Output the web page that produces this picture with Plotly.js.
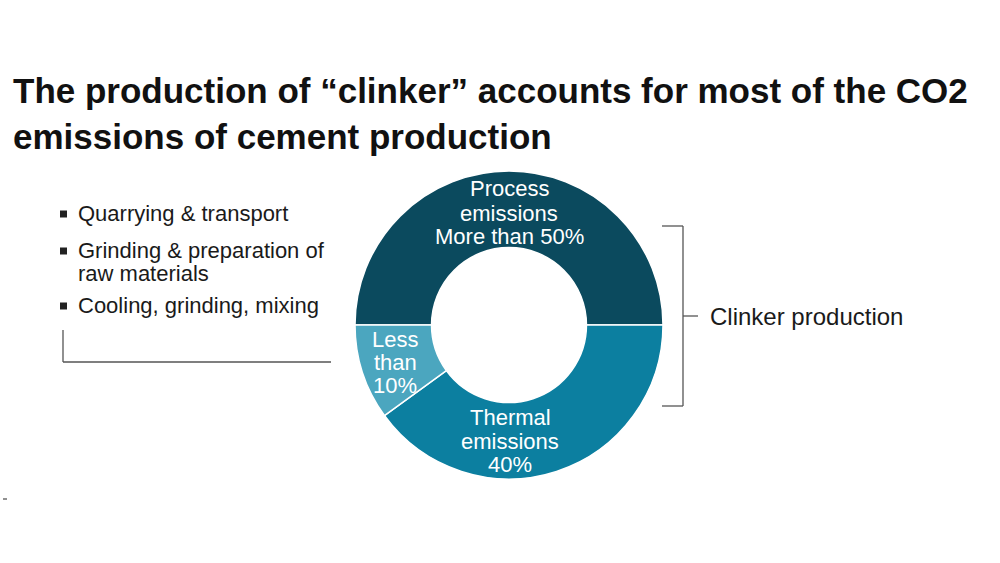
<!DOCTYPE html>
<html>
<head>
<meta charset="utf-8">
<script src="https://cdn.plot.ly/plotly-3.0.1.min.js"></script>
<style>
  html, body { margin: 0; padding: 0; background: #ffffff; }
  #chart { width: 1000px; height: 563px; }
</style>
</head>
<body>
<div id="chart"></div>
<script>
// ---- data ----
const categories = ['Process emissions', 'Thermal emissions', 'Other steps'];
const shares = [50, 40, 10];
const sliceColors = ['#0b4a5e', '#0c7fa0', '#4ba6bf'];
const processLabel = ['Process', 'emissions', 'More than 50%'];
const thermalLabel = ['Thermal', 'emissions', '40%'];
const otherLabel = ['Less', 'than', '10%'];
const stepItems = [['Quarrying & transport'], ['Grinding & preparation of', 'raw materials'], ['Cooling, grinding, mixing']];
const bracketLabel = 'Clinker production';
const titleText = 'The production of \u201cclinker\u201d accounts for most of the CO2<br>emissions of cement production';

// ---- helpers (pixel -> paper) ----
const W = 1000, H = 563;
const px = x => x / W;
const py = y => 1 - y / H;
const FONT = 'Liberation Sans, Arial, Helvetica, sans-serif';

const annotations = [];
function addLines(lines, cx, ys, opts) {
  lines.forEach((t, i) => {
    annotations.push(Object.assign({
      text: t, xref: 'paper', yref: 'paper', x: px(cx), y: py(ys[i]),
      xanchor: 'center', yanchor: 'middle', showarrow: false,
      font: {family: FONT, size: 22, color: '#ffffff'}
    }, opts || {}));
  });
}
addLines(processLabel, 509, [189, 213, 236]);
addLines(thermalLabel, 510, [417, 441, 464]);
addLines(otherLabel, 395, [339, 362, 385]);

// left list
const listYs = [[213], [250, 273], [305]];
stepItems.forEach((item, k) => {
  addLines(item, 76, listYs[k], {xanchor: 'left', font: {family: FONT, size: 22, color: '#1a1a1a'}});
});
// clinker label
annotations.push({
  text: bracketLabel, xref: 'paper', yref: 'paper', x: px(708), y: py(316),
  xanchor: 'left', yanchor: 'middle', showarrow: false,
  font: {family: FONT, size: 24, color: '#1a1a1a'}
});

const lineStyle = {color: '#555555', width: 1.3};
const shapes = [];
function seg(x0, y0, x1, y1) {
  shapes.push({type: 'line', xref: 'paper', yref: 'paper', x0: px(x0), y0: py(y0), x1: px(x1), y1: py(y1), line: lineStyle});
}
// bracket
seg(662, 226, 683, 226);
seg(683, 226, 683, 406);
seg(662, 406, 683, 406);
seg(683, 316, 698, 316);
// left bracket line
seg(63, 330, 63, 362);
seg(63, 362, 331, 362);
// tiny mark
seg(3, 499, 7, 499);
// bullets
[214, 251, 306].forEach(cy => {
  shapes.push({type: 'rect', xref: 'paper', yref: 'paper', x0: px(60), x1: px(67), y0: py(cy + 3.5), y1: py(cy - 3.5),
    fillcolor: '#222222', line: {width: 0}});
});

const trace = {
  type: 'pie',
  labels: categories,
  values: shares,
  hole: 0.503,
  sort: false,
  direction: 'clockwise',
  rotation: 270,
  textinfo: 'none',
  hoverinfo: 'label+percent',
  marker: {colors: sliceColors, line: {color: '#ffffff', width: 1.5}},
  domain: {x: [px(355), px(663)], y: [py(479), py(171)]},
  showlegend: false
};

const layout = {
  width: W, height: H,
  margin: {l: 0, r: 0, t: 0, b: 0},
  paper_bgcolor: '#ffffff',
  plot_bgcolor: '#ffffff',
  showlegend: false,
  title: {
    text: '<b>' + titleText.replace('<br>', '</b><br><b>') + '</b>',
    xref: 'paper', yref: 'paper', x: px(13), y: py(103),
    xanchor: 'left', yanchor: 'top',
    font: {family: FONT, size: 35, color: '#111111'}
  },
  shapes: shapes,
  annotations: annotations
};

Plotly.newPlot('chart', [trace], layout, {displayModeBar: false, staticPlot: true});
</script>
</body>
</html>
